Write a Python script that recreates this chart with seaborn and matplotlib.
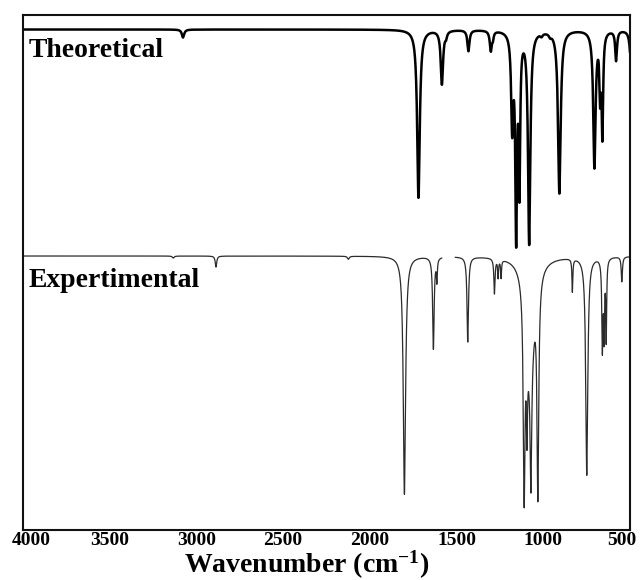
import numpy as np
import pandas as pd
import matplotlib
matplotlib.use("Agg")
import matplotlib.pyplot as plt
import matplotlib.transforms as mtransforms
import seaborn as sns

# ---------------- data ----------------
wn_min, wn_max = 500, 4000
x_ticks = [4000, 3500, 3000, 2500, 2000, 1500, 1000, 500]

# Theoretical spectrum: band centres (cm^-1), depths and half-widths
theo_center = [3076, 1719, 1584, 1560, 1431, 1302, 1290, 1179, 1156, 1137, 1081, 1010, 960, 907, 705, 672, 659, 580, 492]
theo_depth  = [8,    168,  54,   5,    21,   20,   6,    92,   198,  148,  212,  3,    3,   163,  136,  58,  100, 30,  45]
theo_width  = [8,    9,    8,    6,    7,    7,    5,    7,    6,    5,    8,    8,    8,   9,    8,   5,   5,   6,   8]
theo_base = 500.0

# Experimental spectrum
exp_center = [3132, 2886, 2123, 1800, 1633, 1613, 1435, 1281, 1260, 1243, 1110, 1094, 1075, 1071, 1031, 832, 749, 659, 649, 637, 547]
exp_depth  = [2,    11,   3,    238,  92,   22,   85,   35,   18,   18,   202,  90,   105,  122,  212,  33,  218, 90,  72,  80,  25]
exp_width  = [6,    5,    6,    8,    5,    3,    5,    4,    3,    3,    6,    4,    28,   5,    6,    3,   7,   4,   3,   3,   4]
exp_base = 273.5
exp_gap = (1508, 1584)   # short break visible in the experimental trace

labels = ["Theoretical", "Expertimental"]

# ---------------- build traces ----------------
wn = np.arange(wn_min, wn_max + 0.25, 0.25)

def spectrum(base, centers, depths, widths):
    y = np.full_like(wn, base, dtype=float)
    for c, d, w in zip(centers, depths, widths):
        y -= d * w**2 / ((wn - c) ** 2 + w**2)
    return y

y_theo = spectrum(theo_base, theo_center, theo_depth, theo_width)
y_exp = spectrum(exp_base, exp_center, exp_depth, exp_width)

df_theo = pd.DataFrame({"wn": wn, "y": y_theo, "seg": 0})
seg = np.where(wn < exp_gap[0], 0, np.where(wn > exp_gap[1], 1, -1))
df_exp = pd.DataFrame({"wn": wn, "y": y_exp, "seg": seg})
df_exp = df_exp[df_exp["seg"] >= 0]

# ---------------- plot ----------------
sns.set_style("white")
plt.rcParams["font.family"] = ["Liberation Serif", "DejaVu Serif"]
plt.rcParams["font.weight"] = "bold"
plt.rcParams["text.color"] = "black"
plt.rcParams["axes.labelcolor"] = "black"
plt.rcParams["xtick.color"] = "black"
plt.rcParams["mathtext.fontset"] = "custom"
plt.rcParams["mathtext.rm"] = "Liberation Serif:bold"
plt.rcParams["mathtext.it"] = "Liberation Serif:bold"
plt.rcParams["mathtext.bf"] = "Liberation Serif:bold"

fig = plt.figure(figsize=(6.41, 5.80), dpi=100)
W, H = 641, 580
ax = fig.add_axes([22.7 / W, (H - 529.5) / H, (630 - 22.7) / W, (529.5 - 15) / H])

sns.lineplot(data=df_theo, x="wn", y="y", units="seg", estimator=None,
             color="black", linewidth=1.8, ax=ax, sort=False)
sns.lineplot(data=df_exp, x="wn", y="y", units="seg", estimator=None,
             color="#2b2b2b", linewidth=0.9, ax=ax, sort=False)

ax.set_xlim(wn_max, wn_min)
ax.set_ylim(0, 514.5)
ax.set_xticks(x_ticks)
ax.set_xticklabels([str(t) for t in x_ticks], fontsize=14, fontweight="bold")
ax.set_yticks([])
ax.set_ylabel("")
ax.tick_params(axis="x", direction="in", length=7, width=1.4, pad=2, colors="black")
for s in ax.spines.values():
    s.set_visible(True)
    s.set_linewidth(1.5)
    s.set_color("#111111")

# shift the two edge tick labels inward as in the reference
tls = ax.get_xticklabels()
tls[0].set_transform(tls[0].get_transform() + mtransforms.ScaledTranslation(9 / 100, 0, fig.dpi_scale_trans))
tls[-1].set_transform(tls[-1].get_transform() + mtransforms.ScaledTranslation(-8 / 100, 0, fig.dpi_scale_trans))

ax.set_xlabel(r"Wavenumber (cm$^{-1}$)", fontsize=20, fontweight="bold")
ax.xaxis.label.set_va("baseline")
ax.xaxis.set_label_coords((307 - 22.7) / 607.3, (529.5 - 572.5) / 514.5)

ax.text(0.009, 0.918, labels[0], transform=ax.transAxes, fontsize=20,
        fontweight="bold", va="baseline", ha="left")
ax.text(0.009, 0.471, labels[1], transform=ax.transAxes, fontsize=20,
        fontweight="bold", va="baseline", ha="left")

fig.savefig("out.png", dpi=100)
